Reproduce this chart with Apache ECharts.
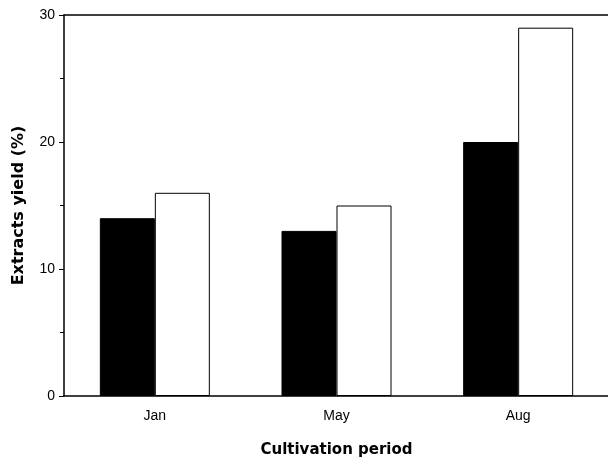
<!DOCTYPE html>
<html><head><meta charset="utf-8">
<script src="https://cdn.jsdelivr.net/npm/echarts@6/dist/echarts.min.js"></script>
<style>html,body{margin:0;padding:0;background:#fff}#c{width:608px;height:461px}</style>
</head><body><div id="c"></div>
<script>
const categories = ['Jan', 'May', 'Aug'];
const seriesA = [14, 13, 20];
const seriesB = [16, 15, 29];
const yTicks = [0, 10, 20, 30];

const chart = echarts.init(document.getElementById('c'), null, {renderer: 'canvas'});
const labelFont = 'Liberation Sans, Arial, Helvetica, sans-serif';
const titleFont = 'DejaVu Sans, Liberation Sans, Arial, sans-serif';
chart.setOption({
  animation: false,
  backgroundColor: '#fff',
  grid: {left: 64, right: -1, top: 15, bottom: 65, containLabel: false, outerBoundsMode: 'none'},
  xAxis: [{
    type: 'category', data: categories, position: 'bottom',
    name: 'Cultivation period', nameLocation: 'middle', nameGap: 47,
    nameTextStyle: {fontFamily: titleFont, fontWeight: 'bold', fontSize: 15, color: '#000'},
    axisLine: {lineStyle: {color: '#000', width: 1.5}},
    axisTick: {alignWithLabel: true, length: 5, lineStyle: {color: '#000'}},
    axisLabel: {fontFamily: labelFont, fontSize: 14, color: '#000', margin: 13},
    splitLine: {show: false}
  }, {
    type: 'category', data: categories, position: 'top',
    axisLine: {show: true, lineStyle: {color: '#000', width: 1.5}},
    axisTick: {show: false}, axisLabel: {show: false}, splitLine: {show: false}
  }],
  yAxis: {
    type: 'value', min: yTicks[0], max: yTicks[yTicks.length - 1], interval: 10,
    name: 'Extracts yield (%)', nameLocation: 'middle', nameGap: 37,
    nameTextStyle: {fontFamily: titleFont, fontWeight: 'bold', fontSize: 16, color: '#000'},
    axisLine: {show: true, lineStyle: {color: '#000', width: 1.5}},
    axisTick: {show: true, length: 5, lineStyle: {color: '#000'}},
    minorTick: {show: true, splitNumber: 2, length: 4, lineStyle: {color: '#000'}},
    axisLabel: {fontFamily: labelFont, fontSize: 14, color: '#000', margin: 9},
    splitLine: {show: false}
  },
  series: [{
    type: 'bar', data: seriesA, barWidth: 55, barGap: '0%',
    itemStyle: {color: '#000', borderColor: '#000', borderWidth: 1}
  }, {
    type: 'bar', data: seriesB, barWidth: 55, barGap: '0%',
    itemStyle: {color: '#fff', borderColor: '#000', borderWidth: 1}
  }]
});
</script></body></html>
